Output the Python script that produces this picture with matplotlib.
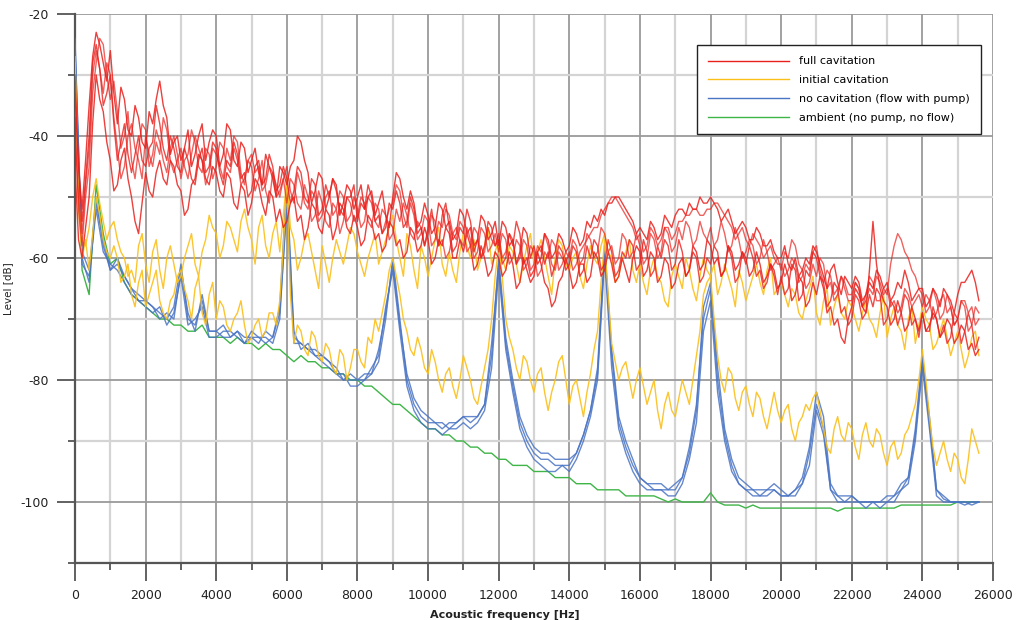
import numpy as np
import matplotlib
matplotlib.use("Agg")
import matplotlib.pyplot as plt
from matplotlib.ticker import MultipleLocator
from matplotlib.lines import Line2D

plt.rcParams['axes.unicode_minus'] = False
plt.rcParams['font.family'] = ['DejaVu Sans']

# frequency grids (Hz)
freq = np.arange(0, 25601, 200)       # ambient / no cavitation
freq_fine = np.arange(0, 25601, 100)  # cavitation spectra

ambient = [
    -27, -62, -66, -48, -56, -61, -60, -64, -66, -67,
    -68, -69, -70, -70, -71, -71, -72, -72, -71, -73,
    -73, -73, -74, -73, -74, -74, -75, -74, -75, -75,
    -76, -77, -76, -77, -77, -78, -78, -79, -79, -80,
    -80, -81, -81, -82, -83, -84, -84, -85, -86, -87,
    -88, -88, -89, -89, -90, -90, -91, -91, -92, -92,
    -93, -93, -94, -94, -94, -95, -95, -95, -96, -96,
    -96, -97, -97, -97, -98, -98, -98, -98, -99, -99,
    -99, -99, -99, -99.5, -100, -99.5, -100, -100, -100, -100,
    -98.5, -100, -100.5, -100.5, -100.5, -101, -100.5, -101, -101, -101,
    -101, -101, -101, -101, -101, -101, -101, -101, -101.5, -101,
    -101, -101, -101, -101, -101, -101, -101, -100.5, -100.5, -100.5,
    -100.5, -100.5, -100.5, -100.5, -100.5, -100, -100, -100, -100,
]

nocav_1 = [
    -24, -60, -64, -50, -58, -62, -61, -63, -65, -66,
    -67, -68, -69, -70, -68, -61, -70, -71, -67, -72,
    -72, -71, -73, -72, -73, -73, -74, -72, -73, -68,
    -47, -73, -74, -75, -75, -76, -77, -78, -80, -80,
    -80, -79, -79, -77, -70, -60, -70, -80, -84, -86,
    -87, -87, -87, -88, -87, -86, -87, -86, -84, -76,
    -60, -73, -80, -86, -89, -91, -92, -92, -93, -93,
    -93, -92, -89, -85, -78, -58, -75, -86, -90, -93,
    -96, -97, -97, -97, -98, -98, -96, -92, -85, -68,
    -64, -78, -88, -93, -96, -97, -98, -98, -98, -97,
    -98, -99, -98, -96, -91, -82, -86, -97, -99, -99,
    -99, -100, -100, -100, -100, -99, -99, -97, -96, -88,
    -76, -87, -98, -99, -100, -100, -100, -100, -100,
]

nocav_2 = [
    -26, -61, -63, -52, -59, -61, -62, -64, -66, -67,
    -68, -69, -68, -71, -69, -63, -71, -70, -68, -73,
    -73, -72, -72, -73, -74, -72, -73, -73, -74, -70,
    -50, -72, -75, -74, -76, -77, -78, -79, -79, -81,
    -81, -80, -78, -76, -68, -62, -72, -81, -85, -87,
    -88, -88, -89, -88, -88, -87, -88, -87, -85, -78,
    -62, -75, -82, -88, -91, -93, -94, -95, -95, -94,
    -95, -93, -90, -86, -80, -60, -78, -88, -92, -95,
    -97, -98, -98, -98, -99, -99, -97, -93, -87, -72,
    -67, -82, -90, -95, -97, -98, -99, -99, -99, -98,
    -99, -99, -99, -97, -94, -85, -89, -98, -100, -100,
    -100, -100, -100, -100, -101, -100, -100, -98, -97, -90,
    -78, -88, -99, -100, -100, -100, -100, -100.5, -100,
]

nocav_3 = [
    -25, -59, -62, -51, -57, -62, -60, -63, -65, -67,
    -67, -68, -70, -69, -70, -62, -69, -72, -66, -72,
    -72, -73, -73, -72, -74, -73, -73, -74, -73, -69,
    -52, -74, -74, -75, -76, -76, -77, -79, -80, -79,
    -80, -80, -79, -75, -69, -61, -71, -79, -83, -85,
    -86, -87, -88, -87, -87, -86, -86, -86, -84, -74,
    -61, -74, -81, -87, -90, -92, -93, -93, -94, -94,
    -94, -92, -89, -85, -79, -59, -76, -87, -91, -94,
    -96, -97, -98, -98, -98, -97, -96, -91, -84, -70,
    -65, -80, -89, -94, -97, -98, -98, -99, -98, -98,
    -99, -99, -98, -97, -92, -84, -88, -98, -99, -100,
    -99, -100, -101, -100, -100, -100, -99, -98, -96, -89,
    -77, -86, -98, -99.5, -100, -100, -100.5, -100, -100,
]

initial_a = [
    -27, -50, -57, -58, -55, -50, -47, -51, -54, -57, -55, -54, -57, -59, -60, -63, -62, -64, -58, -56,
    -61, -64, -59, -57, -62, -65, -60, -58, -61, -64, -63, -60, -58, -56, -61, -63, -59, -57, -53, -55,
    -56, -60, -58, -54, -55, -57, -59, -54, -52, -55, -57, -61, -55, -53, -58, -60, -56, -54, -59, -53,
    -47, -55, -57, -62, -60, -57, -56, -59, -62, -65, -58, -61, -64, -60, -57, -59, -61, -58, -55, -56,
    -59, -61, -63, -60, -58, -56, -61, -59, -57, -55, -53, -57, -60, -63, -56, -58, -62, -65, -58, -60,
    -63, -60, -57, -55, -61, -63, -59, -62, -64, -59, -56, -58, -60, -57, -62, -60, -58, -55, -61, -59,
    -57, -60, -62, -58, -59, -61, -64, -61, -58, -56, -61, -59, -57, -60, -63, -66, -60, -57, -58, -61,
    -62, -60, -59, -63, -65, -61, -58, -60, -61, -58, -56, -59, -60, -64, -63, -60, -59, -57, -62, -64,
    -61, -64, -66, -62, -60, -63, -64, -67, -68, -63, -61, -63, -65, -60, -62, -65, -67, -63, -60, -62,
    -63, -61, -66, -64, -61, -63, -65, -68, -62, -64, -67, -65, -63, -61, -64, -66, -62, -60, -66, -65,
    -64, -66, -68, -65, -66, -69, -70, -67, -65, -63, -69, -71, -67, -65, -71, -68, -66, -69, -70, -67,
    -68, -70, -72, -69, -67, -70, -71, -73, -69, -66, -73, -70, -68, -71, -72, -75, -70, -68, -74, -71,
    -68, -70, -71, -75, -74, -72, -70, -73, -76, -74, -72, -75, -78, -76, -73, -72, -76,
]

initial_b = [
    -28, -52, -60, -57, -62, -56, -50, -53, -57, -59, -60, -58, -60, -64, -63, -61, -66, -68, -64, -62,
    -68, -66, -64, -62, -67, -69, -70, -67, -66, -63, -62, -65, -67, -70, -65, -63, -69, -71, -66, -64,
    -70, -67, -68, -71, -72, -70, -69, -67, -71, -74, -73, -71, -70, -73, -72, -69, -69, -71, -67, -58,
    -48, -66, -74, -71, -72, -75, -76, -72, -73, -76, -77, -74, -75, -78, -79, -75, -76, -80, -78, -75,
    -75, -77, -78, -73, -74, -70, -72, -69, -66, -62, -60, -63, -66, -70, -72, -75, -76, -73, -75, -78,
    -79, -75, -77, -80, -82, -79, -78, -81, -83, -80, -76, -78, -80, -83, -84, -81, -78, -75, -70, -63,
    -58, -63, -70, -73, -75, -78, -80, -76, -77, -80, -82, -79, -78, -82, -85, -82, -80, -77, -76, -80,
    -84, -81, -80, -83, -86, -82, -79, -75, -72, -64, -57, -66, -74, -77, -80, -78, -77, -80, -83, -80,
    -78, -81, -84, -82, -80, -85, -88, -84, -82, -85, -86, -83, -80, -82, -84, -80, -76, -72, -66, -64,
    -63, -70, -76, -80, -82, -78, -79, -83, -85, -82, -81, -84, -86, -82, -83, -86, -88, -85, -82, -85,
    -87, -85, -84, -88, -90, -87, -86, -84, -85, -83, -82, -85, -88, -91, -92, -88, -86, -89, -90, -87,
    -88, -91, -93, -89, -87, -90, -91, -88, -89, -92, -94, -91, -90, -93, -92, -89, -88, -86, -84, -80,
    -75, -80, -86, -91, -94, -92, -90, -93, -95, -92, -93, -96, -97, -93, -88, -90, -92,
]

full_1 = [
    -33, -45, -52, -44, -35, -27, -23, -25, -28, -31, -26, -33, -38, -32, -34, -39, -40, -35, -37, -41,
    -42, -36, -38, -34, -31, -35, -37, -43, -41, -40, -44, -42, -39, -45, -43, -40, -38, -44, -41, -39,
    -40, -45, -43, -38, -39, -44, -45, -41, -42, -46, -44, -42, -46, -48, -43, -45, -47, -50, -45, -46,
    -48, -45, -44, -40, -41, -44, -46, -51, -49, -46, -47, -52, -50, -47, -48, -53, -51, -48, -49, -52,
    -50, -48, -52, -50, -49, -53, -51, -49, -53, -55, -50, -46, -47, -50, -52, -49, -51, -55, -54, -51,
    -53, -56, -55, -51, -52, -55, -54, -57, -56, -52, -53, -56, -55, -59, -57, -53, -54, -57, -56, -54,
    -58, -54, -55, -58, -57, -61, -59, -55, -56, -60, -58, -61, -60, -56, -57, -60, -59, -56, -57, -59,
    -58, -55, -56, -58, -57, -54, -55, -53, -54, -52, -53, -51, -51, -50, -50, -51, -52, -53, -54, -56,
    -55, -56, -57, -54, -55, -57, -56, -53, -54, -55, -53, -52, -52, -53, -51, -52, -52, -50, -51, -51,
    -50, -51, -52, -54, -53, -52, -54, -56, -55, -54, -55, -57, -57, -55, -56, -58, -58, -57, -59, -60,
    -60, -58, -61, -62, -60, -63, -62, -60, -61, -58, -59, -61, -63, -65, -62, -61, -64, -66, -63, -64,
    -65, -63, -64, -67, -66, -64, -65, -62, -63, -65, -64, -67, -66, -64, -65, -62, -64, -67, -66, -65,
    -65, -68, -67, -65, -66, -68, -65, -66, -67, -69, -66, -64, -64, -63, -62, -64, -67,
]

full_2 = [
    -40, -50, -56, -48, -42, -30, -26, -29, -33, -28, -30, -37, -42, -47, -45, -40, -38, -42, -44, -47,
    -40, -43, -45, -41, -43, -37, -39, -44, -46, -44, -42, -45, -47, -43, -40, -42, -44, -48, -46, -42,
    -43, -45, -47, -42, -44, -40, -41, -46, -48, -44, -45, -49, -47, -44, -49, -51, -46, -48, -50, -47,
    -45, -49, -51, -46, -48, -51, -52, -49, -50, -54, -53, -50, -49, -53, -52, -56, -54, -50, -51, -54,
    -53, -50, -51, -54, -55, -51, -52, -56, -54, -52, -51, -48, -49, -53, -55, -51, -53, -57, -56, -53,
    -54, -58, -57, -54, -55, -52, -53, -56, -57, -54, -55, -59, -58, -55, -56, -60, -59, -55, -57, -58,
    -56, -60, -59, -56, -57, -61, -60, -57, -58, -62, -61, -58, -59, -56, -58, -61, -62, -59, -60, -61,
    -59, -62, -61, -59, -58, -57, -56, -55, -55, -53, -52, -51, -50, -50, -51, -52, -53, -54, -55, -57,
    -56, -59, -58, -55, -56, -58, -57, -55, -55, -57, -56, -54, -54, -53, -53, -52, -52, -53, -53, -52,
    -52, -51, -51, -52, -53, -54, -55, -57, -56, -55, -57, -58, -56, -57, -58, -60, -59, -58, -60, -61,
    -61, -63, -62, -60, -61, -64, -63, -61, -62, -59, -58, -62, -64, -62, -63, -66, -65, -63, -64, -66,
    -66, -64, -65, -68, -67, -65, -66, -63, -64, -66, -65, -68, -67, -69, -68, -65, -66, -68, -67, -66,
    -68, -66, -67, -70, -69, -67, -66, -69, -68, -71, -70, -67, -67, -69, -68, -71, -70,
]

full_3 = [
    -45, -57, -60, -55, -50, -38, -30, -34, -36, -41, -44, -49, -48, -44, -42, -47, -50, -54, -56, -51,
    -46, -49, -50, -46, -44, -47, -48, -44, -45, -48, -49, -53, -52, -48, -47, -43, -44, -47, -48, -45,
    -46, -49, -50, -46, -47, -51, -52, -48, -49, -53, -51, -47, -48, -51, -53, -49, -50, -54, -52, -55,
    -54, -51, -50, -54, -53, -57, -55, -51, -52, -55, -56, -52, -53, -57, -55, -51, -52, -55, -56, -53,
    -55, -58, -57, -53, -54, -57, -56, -59, -58, -54, -55, -58, -57, -60, -59, -55, -56, -59, -58, -55,
    -57, -61, -60, -57, -58, -55, -56, -60, -60, -57, -59, -56, -58, -62, -61, -58, -60, -63, -62, -59,
    -60, -63, -62, -59, -61, -65, -64, -60, -62, -64, -63, -59, -61, -64, -65, -68, -67, -64, -63, -60,
    -62, -65, -64, -61, -61, -64, -63, -59, -60, -63, -62, -59, -61, -64, -63, -60, -62, -64, -60, -58,
    -59, -63, -62, -59, -60, -64, -63, -60, -61, -65, -64, -61, -60, -63, -62, -58, -59, -62, -61, -57,
    -58, -61, -60, -63, -62, -58, -59, -62, -61, -59, -60, -63, -62, -59, -61, -64, -63, -61, -62, -65,
    -64, -61, -63, -67, -66, -63, -64, -68, -67, -64, -66, -63, -65, -69, -68, -71, -70, -73, -74, -70,
    -68, -65, -66, -68, -69, -62, -54, -61, -65, -67, -68, -71, -70, -67, -69, -72, -71, -68, -70, -72,
    -69, -72, -71, -69, -70, -73, -72, -70, -71, -74, -73, -71, -72, -75, -74, -76, -75,
]

full_4 = [
    -37, -52, -58, -50, -45, -33, -28, -24, -25, -30, -34, -31, -36, -42, -40, -36, -44, -47, -42, -38,
    -39, -45, -43, -39, -41, -44, -46, -42, -40, -43, -47, -44, -43, -39, -41, -45, -46, -42, -43, -47,
    -45, -41, -42, -45, -46, -42, -44, -48, -47, -44, -43, -46, -45, -49, -48, -45, -46, -50, -49, -47,
    -51, -47, -48, -51, -52, -48, -50, -54, -53, -49, -51, -54, -55, -51, -52, -49, -50, -54, -53, -50,
    -52, -55, -54, -50, -51, -54, -55, -52, -53, -57, -56, -52, -54, -51, -53, -56, -57, -54, -55, -58,
    -56, -53, -54, -58, -57, -60, -59, -56, -55, -57, -58, -55, -57, -60, -59, -55, -56, -59, -58, -56,
    -59, -56, -57, -61, -60, -57, -58, -62, -61, -58, -59, -63, -62, -59, -60, -57, -58, -62, -61, -59,
    -60, -57, -58, -61, -60, -56, -57, -60, -59, -55, -56, -59, -58, -61, -60, -56, -57, -60, -59, -56,
    -58, -61, -60, -56, -57, -60, -59, -55, -56, -59, -58, -55, -57, -54, -55, -58, -57, -54, -56, -57,
    -55, -58, -57, -54, -56, -59, -58, -55, -57, -60, -59, -57, -58, -61, -60, -57, -59, -62, -61, -60,
    -62, -59, -60, -57, -58, -61, -62, -65, -64, -61, -63, -60, -61, -65, -64, -67, -66, -63, -65, -67,
    -67, -64, -65, -68, -66, -63, -64, -67, -67, -65, -66, -61, -58, -56, -57, -59, -60, -62, -63, -65,
    -66, -69, -68, -65, -67, -70, -69, -66, -68, -71, -70, -67, -68, -72, -71, -68, -69,
]

full_5 = [
    -30, -45, -54, -47, -40, -28, -25, -29, -35, -33, -30, -38, -44, -41, -38, -43, -46, -43, -40, -44,
    -45, -42, -41, -35, -38, -42, -44, -40, -42, -45, -46, -42, -44, -47, -48, -44, -42, -46, -45, -41,
    -42, -46, -48, -44, -45, -41, -43, -47, -46, -50, -49, -45, -44, -48, -47, -43, -45, -49, -48, -45,
    -47, -51, -49, -45, -46, -50, -51, -47, -48, -53, -52, -48, -50, -47, -49, -52, -53, -50, -50, -48,
    -54, -51, -52, -48, -50, -54, -53, -56, -55, -51, -52, -49, -51, -55, -54, -50, -52, -56, -55, -58,
    -55, -52, -56, -58, -53, -51, -55, -59, -58, -55, -56, -52, -54, -58, -57, -60, -58, -54, -55, -58,
    -57, -61, -60, -56, -58, -54, -56, -61, -60, -63, -62, -59, -58, -61, -59, -63, -61, -58, -59, -62,
    -61, -58, -59, -63, -62, -58, -60, -57, -58, -62, -61, -57, -59, -63, -62, -59, -60, -57, -58, -62,
    -61, -57, -59, -63, -62, -58, -60, -57, -58, -62, -61, -57, -59, -63, -62, -59, -60, -64, -63, -60,
    -61, -58, -59, -63, -62, -58, -60, -64, -63, -59, -61, -58, -60, -63, -62, -65, -64, -61, -63, -66,
    -63, -66, -65, -61, -62, -67, -66, -62, -63, -59, -60, -63, -64, -68, -67, -64, -65, -69, -68, -71,
    -70, -66, -67, -70, -69, -66, -68, -65, -66, -71, -70, -67, -68, -71, -69, -66, -67, -71, -70, -73,
    -69, -72, -72, -68, -70, -73, -71, -74, -73, -69, -70, -74, -72, -69, -71, -75, -73,
]

legend_labels = ["full cavitation", "initial cavitation",
                 "no cavitation (flow with pump)", "ambient (no pump, no flow)"]
x_ticks = list(range(0, 26001, 2000))
y_ticks = [-20, -40, -60, -80, -100]

C_RED = "#e8201c"
C_YEL = "#fbbf1a"
C_BLU = "#4a74c4"
C_GRN = "#3fb548"

fig = plt.figure(figsize=(10.2, 6.2), dpi=100)
ax = fig.add_axes([75/1020, 57/620, 918/1020, 549/620])

ax.plot(freq, ambient, color=C_GRN, lw=1.0, zorder=3)
for s in (nocav_1, nocav_2, nocav_3):
    ax.plot(freq, s, color=C_BLU, lw=1.0, alpha=0.85, zorder=4)
for s in (initial_a, initial_b):
    ax.plot(freq_fine, s, color=C_YEL, lw=1.0, alpha=0.9, zorder=5)
for s, a in zip((full_1, full_2, full_3, full_4, full_5), (0.85, 0.7, 0.85, 0.7, 0.8)):
    ax.plot(freq_fine, s, color=C_RED, lw=1.0, alpha=a, zorder=6)

ax.set_xlim(0, 26000)
ax.set_ylim(-110, -20)
ax.set_xticks(x_ticks)
ax.set_yticks(y_ticks)
ax.xaxis.set_minor_locator(MultipleLocator(1000))
ax.yaxis.set_minor_locator(MultipleLocator(10))
ax.grid(True, which='major', color='#9a9a9a', lw=1.3, zorder=0)
ax.grid(True, which='minor', color='#d4d4d4', lw=1.6, zorder=0)
ax.set_axisbelow(True)
for sp in ('top', 'right'):
    ax.spines[sp].set_visible(False)
for sp in ('left', 'bottom'):
    ax.spines[sp].set_color('#555555')
    ax.spines[sp].set_linewidth(1.6)
ax.tick_params(which='major', direction='out', length=13, width=1.3,
               color='#555555', labelsize=9, labelcolor='#222222', pad=6)
ax.tick_params(which='minor', direction='out', length=5, width=1.3,
               color='#555555')

ax.set_xlabel("Acoustic frequency [Hz]", fontsize=8, fontweight='bold', color='#222222')
ax.xaxis.set_label_coords(0.468, -0.085)
ax.set_ylabel("Level [dB]", fontsize=7.5, color='#222222')
ax.yaxis.set_label_coords(-0.067, 0.5)

handles = [Line2D([], [], color=c, lw=1.0) for c in (C_RED, C_YEL, C_BLU, C_GRN)]
leg = ax.legend(handles, legend_labels, loc='upper left', bbox_to_anchor=(0.671, 0.953),
                fontsize=8, handlelength=7.3, frameon=True, fancybox=False,
                edgecolor='#222222', framealpha=1.0, borderpad=1.0, labelspacing=0.8,
                handletextpad=0.9)
leg.get_frame().set_linewidth(1.0)
leg.set_zorder(10)

fig.savefig("out.png", dpi=100)
